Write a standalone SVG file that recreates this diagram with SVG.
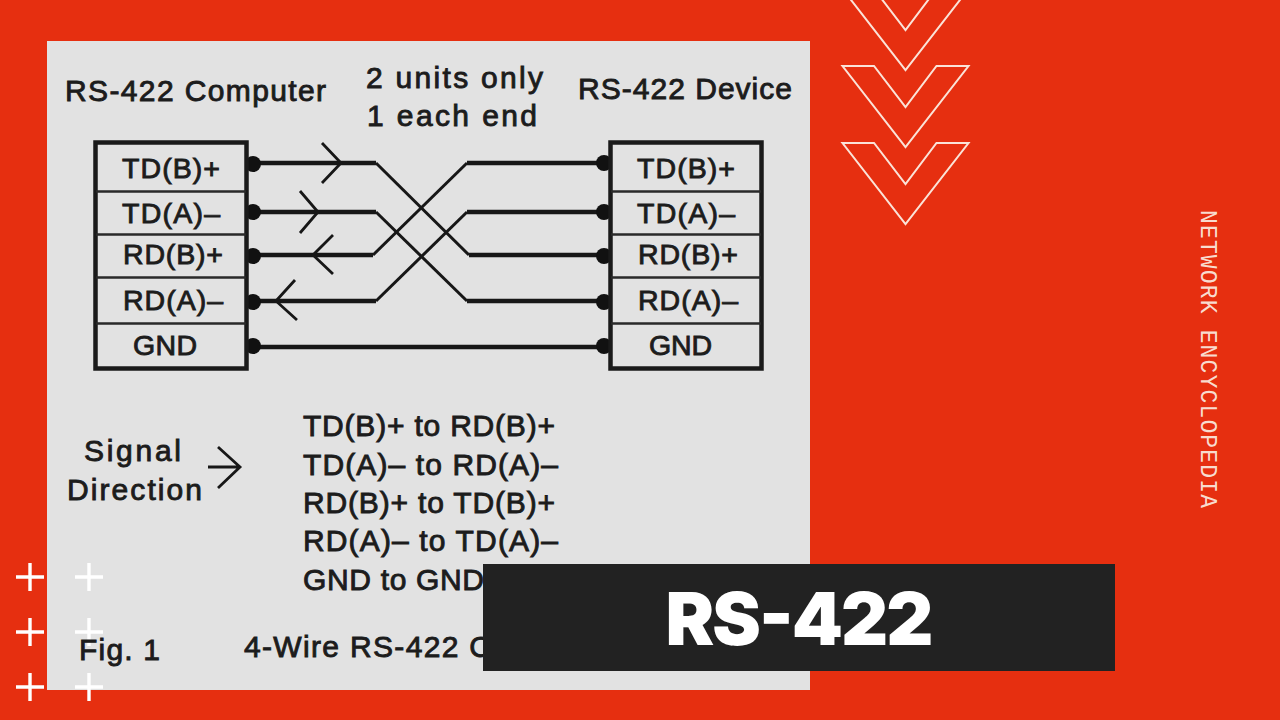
<svg xmlns="http://www.w3.org/2000/svg" width="1280" height="720" viewBox="0 0 1280 720">
<style>
.t{font-family:"Liberation Sans",Arial,sans-serif;font-size:30px;fill:#1c1c1c;stroke:#1c1c1c;stroke-width:.9px}
.n{font-size:28.5px}
.w{fill:none;stroke:#171717;stroke-width:3px;stroke-linejoin:miter}
.h{fill:none;stroke:#171717;stroke-width:4.5px}
.a{fill:none;stroke:#171717;stroke-width:2.8px}
.b{fill:none;stroke:#1a1a1a;stroke-width:4.5px}
.r{stroke:#2a2a2a;stroke-width:2.4px}
.c{fill:none;stroke:#fbe3d8;stroke-width:2px}
.p{stroke:#fff;stroke-width:3.4px}
.d{fill:#111}
</style>
<rect width="1280" height="720" fill="#e62f10"/>
<rect id="panel" x="47" y="41" width="763" height="649" fill="#e2e2e2"/>
<g id="chevrons">
<polygon class="c" points="842.5,-11 874,-11 905.5,30 936.5,-11 968.5,-11 905.5,70"/>
<polygon class="c" points="842.5,66 874,66 905.5,107 936.5,66 968.5,66 905.5,147"/>
<polygon class="c" points="842.5,143 874,143 905.5,184 936.5,143 968.5,143 905.5,224"/>
</g>
<g id="plus-marks">
<path class="p" d="M16 577H44M30 563V591M75 577H103M89 563V591M16 632H44M30 618V646M75 632H103M89 618V646M16 687H44M30 673V701M75 687H103M89 673V701"/>
</g>
<g id="headings">
<text class="t" x="65" y="101" textLength="261">RS-422 Computer</text>
<text class="t" x="366" y="88" textLength="177">2 units only</text>
<text class="t" x="367" y="126" textLength="170">1 each end</text>
<text class="t" x="578" y="99" textLength="214">RS-422 Device</text>
</g>
<g id="connectors">
<path class="w" d="M376 163L469 255"/>
<path class="w" d="M376 212L467 301"/>
<path class="w" d="M373 255L467 163"/>
<path class="w" d="M376 301L467 212"/>
<path class="h" d="M253 163H376M469 255H603M253 212H376M467 301H603M253 255H373M467 163H603M253 301H376M467 212H603M253 347H603"/>
<path class="a" d="M322 143L341 163L322 183"/>
<path class="a" d="M300 191L318 212L300 233"/>
<path class="a" d="M333 235L313 255L333 274"/>
<path class="a" d="M295 280L276 301L297 320"/>
<g class="d">
<circle cx="253" cy="164" r="8"/><circle cx="253" cy="212" r="8"/><circle cx="253" cy="256" r="8"/><circle cx="253" cy="302" r="8"/><circle cx="253" cy="346" r="8"/>
<circle cx="604" cy="163" r="8"/><circle cx="604" cy="212" r="8"/><circle cx="604" cy="256" r="8"/><circle cx="604" cy="302" r="8"/><circle cx="604" cy="346" r="8"/>
</g>
</g>
<g id="computer">
<rect class="b" x="95.5" y="142.5" width="151" height="226"/>
<path class="r" d="M96 191.5H246M96 234.5H246M96 277.5H246M96 323.5H246"/>
<text class="t n" x="122" y="178" textLength="98">TD(B)+</text>
<text class="t n" x="122" y="223" textLength="98">TD(A)–</text>
<text class="t n" x="123" y="264" textLength="100">RD(B)+</text>
<text class="t n" x="123" y="310" textLength="100">RD(A)–</text>
<text class="t n" x="133" y="355" textLength="64">GND</text>
</g>
<g id="device">
<rect class="b" x="610.5" y="142.5" width="151" height="226"/>
<path class="r" d="M611 191.5H761M611 234.5H761M611 277.5H761M611 323.5H761"/>
<text class="t n" x="637" y="178" textLength="98">TD(B)+</text>
<text class="t n" x="637" y="223" textLength="98">TD(A)–</text>
<text class="t n" x="638" y="264" textLength="100">RD(B)+</text>
<text class="t n" x="638" y="310" textLength="100">RD(A)–</text>
<text class="t n" x="649" y="355" textLength="63">GND</text>
</g>
<g id="signal-direction">
<text class="t" x="84" y="461" textLength="97">Signal</text>
<text class="t" x="67" y="500" textLength="135">Direction</text>
<path class="a" d="M208 467H240M218 447L240 467L218 488"/>
</g>
<g id="pin-list">
<text class="t" x="303" y="436" textLength="252">TD(B)+ to RD(B)+</text>
<text class="t" x="303" y="475" textLength="255">TD(A)– to RD(A)–</text>
<text class="t" x="303" y="513" textLength="252">RD(B)+ to TD(B)+</text>
<text class="t" x="303" y="551" textLength="255">RD(A)– to TD(A)–</text>
<text class="t" x="303" y="590" textLength="181">GND to GND</text>
</g>
<g id="captions">
<text class="t" x="79" y="660" textLength="81">Fig. 1</text>
<text class="t" x="244" y="657" textLength="247">4-Wire RS-422 C</text>
</g>
<g id="title">
<rect x="483" y="564" width="632" height="107" fill="#222"/>
<text x="799.5" y="645" text-anchor="middle" textLength="268" font-family="Inter,'Liberation Sans',sans-serif" font-weight="900" font-size="73" fill="#fff">RS-422</text>
</g>
<text id="side-label" transform="translate(1201 210) rotate(90)" font-family="'Liberation Mono',monospace" font-size="23" fill="#f8dccf" textLength="298">NETWORK ENCYCLOPEDIA</text>
</svg>
